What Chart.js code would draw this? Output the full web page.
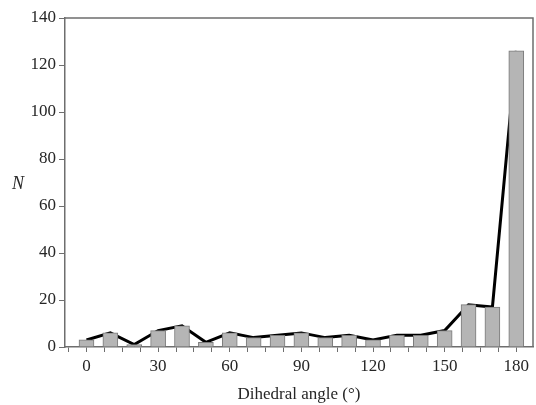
<!DOCTYPE html>
<html>
<head>
<meta charset="utf-8">
<script src="https://cdn.jsdelivr.net/npm/chart.js@4"></script>
<style>
  html, body { margin: 0; padding: 0; background: #fff; }
  #wrap { position: relative; width: 536px; height: 405px; }
</style>
</head>
<body>
<div id="wrap"><canvas id="c"></canvas></div>
<script>
// dihedral angle histogram (deg) and counts
var angles = [0, 10, 20, 30, 40, 50, 60, 70, 80, 90, 100, 110, 120, 130, 140, 150, 160, 170, 180];
var counts = [3, 6, 1, 7, 9, 2, 6, 4, 5, 6, 4, 5, 3, 5, 5, 7, 18, 17, 126];
var xLabels = [0, 30, 60, 90, 120, 150, 180];
var yTicks = [0, 20, 40, 60, 80, 100, 120, 140];

var AXIS = '#6e6e6e', TXT = '#262626', FONT = '"Liberation Serif", "DejaVu Serif", serif';

var pts = angles.map(function (a, i) { return { x: a, y: counts[i] }; });

// frame on top/right + unrotated italic N
var frame = {
  id: 'frame',
  afterDraw: function (ch) {
    var a = ch.chartArea, ct = ch.ctx;
    ct.save();
    ct.strokeStyle = AXIS; ct.lineWidth = 1.5;
    ct.beginPath();
    ct.moveTo(a.left, a.top); ct.lineTo(a.right, a.top); ct.lineTo(a.right, a.bottom);
    ct.stroke();
    ct.fillStyle = TXT; ct.font = 'italic 18px ' + FONT;
    ct.textAlign = 'center'; ct.textBaseline = 'middle';
    ct.fillText('N', 18, 184);
    ct.restore();
  }
};

new Chart(document.getElementById('c').getContext('2d'), {
  type: 'bar',
  data: {
    datasets: [
      { type: 'bar', data: pts, backgroundColor: '#b5b5b5', borderColor: '#7a7a7a', borderWidth: 1, barThickness: 15, order: 1 },
      { type: 'line', data: pts, borderColor: '#000', borderWidth: 3, pointRadius: 0, tension: 0, fill: false, order: 2 }
    ]
  },
  options: {
    responsive: true, maintainAspectRatio: false, animation: false,
    layout: { padding: { top: 18, right: 3, left: 0, bottom: 0 } },
    plugins: { legend: { display: false }, tooltip: { enabled: false } },
    scales: {
      x: {
        type: 'linear', min: -9, max: 187, offset: false,
        afterBuildTicks: function (s) {
          var t = [];
          for (var v = -7.5; v <= 187; v += 7.5) t.push({ value: v });
          s.ticks = t;
        },
        afterFit: function (s) { s.height = 58; },
        border: { color: AXIS, width: 1.5 },
        grid: { drawOnChartArea: false, color: AXIS, tickLength: 5, lineWidth: 1, offset: false },
        ticks: {
          color: TXT, font: { family: FONT, size: 17 }, padding: 4, autoSkip: false, maxRotation: 0,
          callback: function (v) { return xLabels.indexOf(v) >= 0 ? String(v) : ''; }
        },
        title: { display: true, text: 'Dihedral angle (°)', color: TXT, font: { family: FONT, size: 17 }, padding: { top: 2, bottom: 0 } }
      },
      y: {
        min: 0, max: 140,
        afterBuildTicks: function (s) { s.ticks = yTicks.map(function (v) { return { value: v }; }); },
        afterFit: function (s) { s.width = 65; },
        border: { color: AXIS, width: 1.5 },
        grid: { drawOnChartArea: false, color: AXIS, tickLength: 6, lineWidth: 1 },
        ticks: { color: TXT, font: { family: FONT, size: 17 }, padding: 3 }
      }
    }
  },
  plugins: [frame]
});
</script>
</body>
</html>
